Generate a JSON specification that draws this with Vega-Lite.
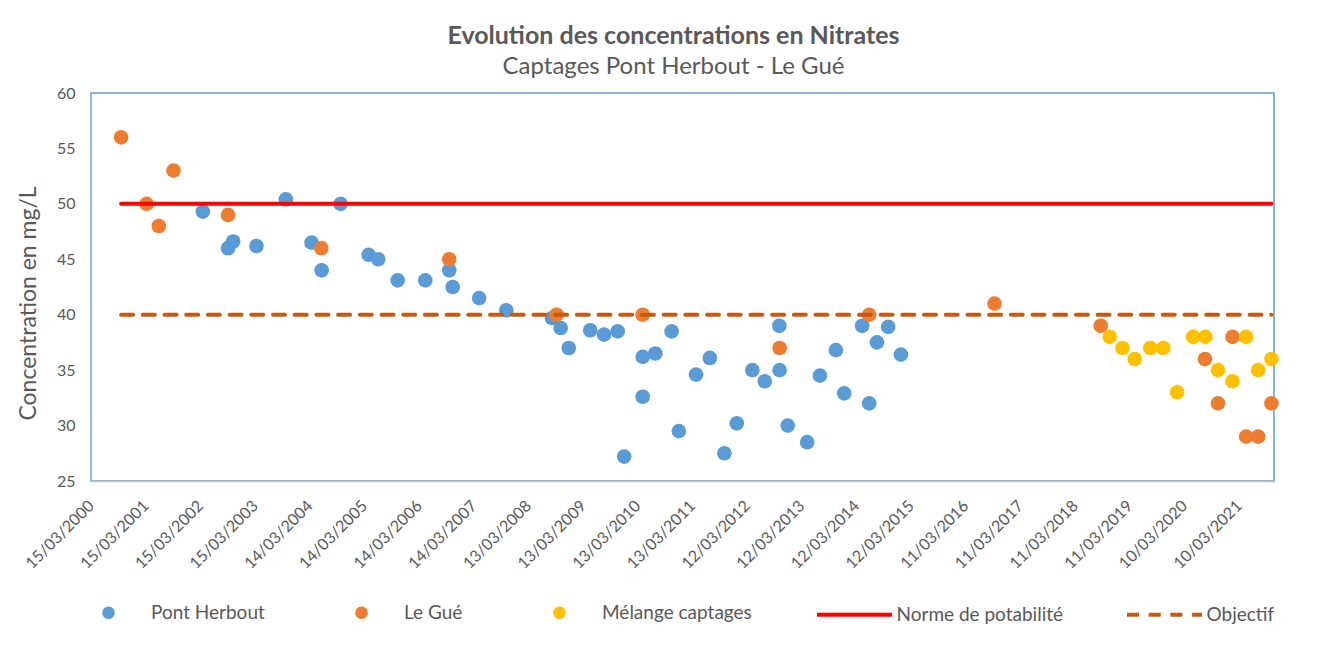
{
  "$schema": "https://vega.github.io/schema/vega-lite/v6.json",
  "autosize": "none",
  "width": 1183,
  "height": 388,
  "padding": {"left": 91, "top": 93, "right": 60, "bottom": 176},
  "background": "white",
  "config": {
    "font": "Lato",
    "view": {"stroke": "#5B9BD5", "strokeWidth": 1.5},
    "axis": {"labelColor": "#595959", "titleColor": "#595959", "grid": false, "ticks": false, "domainColor": "#BFBFBF", "domainWidth": 1.5},
    "legend": {"labelFontSize": 19, "labelColor": "#595959", "labelLimit": 400, "symbolOpacity": 1}
  },
  "title": {
    "text": "Evolution des concentrations en Nitrates",
    "subtitle": "Captages Pont Herbout - Le Gué",
    "fontSize": 25,
    "fontWeight": "bold",
    "color": "#595959",
    "subtitleFontSize": 24,
    "subtitleColor": "#595959",
    "subtitlePadding": 6,
    "anchor": "middle",
    "frame": "group",
    "offset": 6,
    "dx": -9
  },
  "resolve": {
    "scale": {"color": "independent", "strokeDash": "independent"},
    "legend": {"color": "independent", "strokeDash": "independent"}
  },
  "datasets": {
    "points": [
      {"d": "2002/04/01", "v": 49.3, "s": "Pont Herbout"},
      {"d": "2002/09/16", "v": 46.0, "s": "Pont Herbout"},
      {"d": "2002/10/20", "v": 46.6, "s": "Pont Herbout"},
      {"d": "2003/03/25", "v": 46.2, "s": "Pont Herbout"},
      {"d": "2003/10/07", "v": 50.4, "s": "Pont Herbout"},
      {"d": "2004/03/27", "v": 46.5, "s": "Pont Herbout"},
      {"d": "2004/06/02", "v": 44.0, "s": "Pont Herbout"},
      {"d": "2004/10/07", "v": 50.0, "s": "Pont Herbout"},
      {"d": "2005/04/12", "v": 45.4, "s": "Pont Herbout"},
      {"d": "2005/06/15", "v": 45.0, "s": "Pont Herbout"},
      {"d": "2005/10/23", "v": 43.1, "s": "Pont Herbout"},
      {"d": "2006/04/25", "v": 43.1, "s": "Pont Herbout"},
      {"d": "2006/10/02", "v": 44.0, "s": "Pont Herbout"},
      {"d": "2006/10/25", "v": 42.5, "s": "Pont Herbout"},
      {"d": "2007/04/20", "v": 41.5, "s": "Pont Herbout"},
      {"d": "2007/10/18", "v": 40.4, "s": "Pont Herbout"},
      {"d": "2008/08/18", "v": 39.7, "s": "Pont Herbout"},
      {"d": "2008/10/15", "v": 38.8, "s": "Pont Herbout"},
      {"d": "2008/12/08", "v": 37.0, "s": "Pont Herbout"},
      {"d": "2009/04/30", "v": 38.6, "s": "Pont Herbout"},
      {"d": "2009/08/01", "v": 38.2, "s": "Pont Herbout"},
      {"d": "2009/10/31", "v": 38.5, "s": "Pont Herbout"},
      {"d": "2009/12/13", "v": 27.2, "s": "Pont Herbout"},
      {"d": "2010/04/16", "v": 36.2, "s": "Pont Herbout"},
      {"d": "2010/04/16", "v": 32.6, "s": "Pont Herbout"},
      {"d": "2010/07/09", "v": 36.5, "s": "Pont Herbout"},
      {"d": "2010/10/26", "v": 38.5, "s": "Pont Herbout"},
      {"d": "2010/12/13", "v": 29.5, "s": "Pont Herbout"},
      {"d": "2011/04/07", "v": 34.6, "s": "Pont Herbout"},
      {"d": "2011/07/08", "v": 36.1, "s": "Pont Herbout"},
      {"d": "2011/10/13", "v": 27.5, "s": "Pont Herbout"},
      {"d": "2012/01/04", "v": 30.2, "s": "Pont Herbout"},
      {"d": "2012/04/17", "v": 35.0, "s": "Pont Herbout"},
      {"d": "2012/07/09", "v": 34.0, "s": "Pont Herbout"},
      {"d": "2012/10/14", "v": 39.0, "s": "Pont Herbout"},
      {"d": "2012/10/16", "v": 35.0, "s": "Pont Herbout"},
      {"d": "2012/12/09", "v": 30.0, "s": "Pont Herbout"},
      {"d": "2013/04/18", "v": 28.5, "s": "Pont Herbout"},
      {"d": "2013/07/12", "v": 34.5, "s": "Pont Herbout"},
      {"d": "2013/10/27", "v": 36.8, "s": "Pont Herbout"},
      {"d": "2013/12/21", "v": 32.9, "s": "Pont Herbout"},
      {"d": "2014/04/20", "v": 39.0, "s": "Pont Herbout"},
      {"d": "2014/06/06", "v": 32.0, "s": "Pont Herbout"},
      {"d": "2014/07/28", "v": 37.5, "s": "Pont Herbout"},
      {"d": "2014/10/11", "v": 38.9, "s": "Pont Herbout"},
      {"d": "2015/01/04", "v": 36.4, "s": "Pont Herbout"},
      {"d": "2000/10/02", "v": 56, "s": "Le Gué"},
      {"d": "2001/03/21", "v": 50, "s": "Le Gué"},
      {"d": "2001/06/11", "v": 48, "s": "Le Gué"},
      {"d": "2001/09/17", "v": 53, "s": "Le Gué"},
      {"d": "2002/09/16", "v": 49, "s": "Le Gué"},
      {"d": "2004/05/31", "v": 46, "s": "Le Gué"},
      {"d": "2006/10/02", "v": 45, "s": "Le Gué"},
      {"d": "2008/09/18", "v": 40, "s": "Le Gué"},
      {"d": "2010/04/16", "v": 40, "s": "Le Gué"},
      {"d": "2012/10/16", "v": 37, "s": "Le Gué"},
      {"d": "2014/06/06", "v": 40, "s": "Le Gué"},
      {"d": "2016/09/20", "v": 41, "s": "Le Gué"},
      {"d": "2018/08/30", "v": 39, "s": "Le Gué"},
      {"d": "2020/07/26", "v": 36, "s": "Le Gué"},
      {"d": "2020/10/21", "v": 32, "s": "Le Gué"},
      {"d": "2021/01/26", "v": 38, "s": "Le Gué"},
      {"d": "2021/04/27", "v": 29, "s": "Le Gué"},
      {"d": "2021/07/16", "v": 29, "s": "Le Gué"},
      {"d": "2021/10/13", "v": 32, "s": "Le Gué"},
      {"d": "2018/10/29", "v": 38, "s": "Mélange captages"},
      {"d": "2019/01/22", "v": 37, "s": "Mélange captages"},
      {"d": "2019/04/14", "v": 36, "s": "Mélange captages"},
      {"d": "2019/07/27", "v": 37, "s": "Mélange captages"},
      {"d": "2019/10/22", "v": 37, "s": "Mélange captages"},
      {"d": "2020/01/22", "v": 33, "s": "Mélange captages"},
      {"d": "2020/05/08", "v": 38, "s": "Mélange captages"},
      {"d": "2020/07/29", "v": 38, "s": "Mélange captages"},
      {"d": "2020/10/21", "v": 35, "s": "Mélange captages"},
      {"d": "2021/01/26", "v": 34, "s": "Mélange captages"},
      {"d": "2021/04/27", "v": 38, "s": "Mélange captages"},
      {"d": "2021/07/16", "v": 35, "s": "Mélange captages"},
      {"d": "2021/10/13", "v": 36, "s": "Mélange captages"}
    ],
    "lines": [
      {"d": "2000/10/02", "d2": "2021/10/13", "v": 50, "s": "Norme de potabilité"},
      {"d": "2000/10/02", "d2": "2021/10/13", "v": 40, "s": "Objectif"}
    ]
  },
  "layer": [
    {
      "data": {"name": "points"},
      "mark": {"type": "circle", "size": 215, "opacity": 1},
      "encoding": {
        "x": {
          "field": "d", "type": "temporal",
          "scale": {"domain": [{"year": 2000, "month": 3, "date": 15}, {"year": 2021, "month": 10, "date": 30}]},
          "axis": {
            "title": null,
            "format": "%d/%m/%Y",
            "labelAngle": -45,
            "labelAlign": "right",
            "labelBaseline": "middle",
            "labelPadding": 22,
            "labelFontSize": 16,
            "labelOverlap": false,
            "labelBound": false,
            "labelFlush": false,
            "values": [
              {"year": 2000, "month": 3, "date": 15},
              {"year": 2001, "month": 3, "date": 15},
              {"year": 2002, "month": 3, "date": 15},
              {"year": 2003, "month": 3, "date": 15},
              {"year": 2004, "month": 3, "date": 14},
              {"year": 2005, "month": 3, "date": 14},
              {"year": 2006, "month": 3, "date": 14},
              {"year": 2007, "month": 3, "date": 14},
              {"year": 2008, "month": 3, "date": 13},
              {"year": 2009, "month": 3, "date": 13},
              {"year": 2010, "month": 3, "date": 13},
              {"year": 2011, "month": 3, "date": 13},
              {"year": 2012, "month": 3, "date": 12},
              {"year": 2013, "month": 3, "date": 12},
              {"year": 2014, "month": 3, "date": 12},
              {"year": 2015, "month": 3, "date": 12},
              {"year": 2016, "month": 3, "date": 11},
              {"year": 2017, "month": 3, "date": 11},
              {"year": 2018, "month": 3, "date": 11},
              {"year": 2019, "month": 3, "date": 11},
              {"year": 2020, "month": 3, "date": 10},
              {"year": 2021, "month": 3, "date": 10}
            ]
          }
        },
        "y": {
          "field": "v", "type": "quantitative",
          "scale": {"domain": [25, 60], "nice": false, "zero": false},
          "axis": {
            "title": "Concentration en mg/L",
            "titleFontSize": 23,
            "titleFontWeight": "normal",
            "titlePadding": 16,
            "titleY": 210,
            "labelFontSize": 16,
            "labelPadding": 16,
            "values": [25, 30, 35, 40, 45, 50, 55, 60]
          }
        },
        "color": {
          "field": "s", "type": "nominal",
          "scale": {
            "domain": ["Pont Herbout", "Le Gué", "Mélange captages"],
            "range": ["#5B9BD5", "#ED7D31", "#FFC000"]
          },
          "legend": {
            "title": null,
            "orient": "none",
            "legendX": 8,
            "legendY": 510,
            "direction": "horizontal",
            "columns": 3,
            "columnPadding": 87,
            "labelOffset": 33,
            "symbolSize": 160,
            "symbolStrokeWidth": 0
          }
        }
      }
    },
    {
      "data": {"name": "lines"},
      "mark": {"type": "rule", "strokeWidth": 4, "strokeCap": "round"},
      "encoding": {
        "x": {"field": "d", "type": "temporal"},
        "x2": {"field": "d2"},
        "y": {"field": "v", "type": "quantitative"},
        "color": {
          "field": "s", "type": "nominal",
          "scale": {"domain": ["Norme de potabilité", "Objectif"], "range": ["#FF0000", "#C55A11"]},
          "legend": {
            "title": null,
            "orient": "none",
            "legendX": 724,
            "legendY": 482,
            "direction": "horizontal",
            "columns": 2,
            "columnPadding": 55,
            "labelOffset": 2.5,
            "symbolType": "stroke",
            "symbolSize": 5625,
            "symbolStrokeWidth": 4
          }
        },
        "strokeDash": {
          "field": "s", "type": "nominal",
          "scale": {"domain": ["Norme de potabilité", "Objectif"], "range": [[1, 0], [12, 9.7]]},
          "legend": {
            "title": null,
            "orient": "none",
            "legendX": 724,
            "legendY": 482,
            "direction": "horizontal",
            "columns": 2,
            "columnPadding": 55,
            "labelOffset": 2.5,
            "symbolType": "stroke",
            "symbolSize": 5625,
            "symbolStrokeWidth": 4
          }
        }
      }
    }
  ]
}
